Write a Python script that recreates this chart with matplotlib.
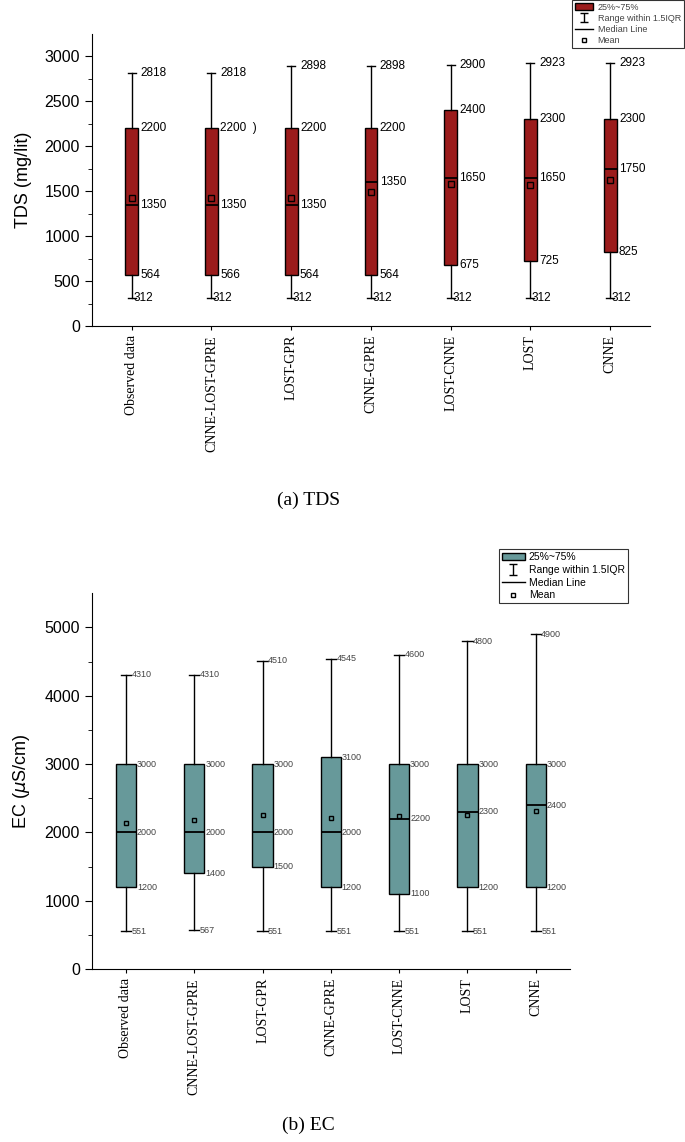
import matplotlib
matplotlib.use("Agg")
import numpy as np
import matplotlib.pyplot as plt
from matplotlib.patches import Patch
from matplotlib.lines import Line2D

# model names on the x axis
models = ["Observed data", "CNNE-LOST-GPRE", "LOST-GPR", "CNNE-GPRE",
          "LOST-CNNE", "LOST", "CNNE"]

# TDS (mg/lit)
tds_min = [312, 312, 312, 312, 312, 312, 312]
tds_q1 = [564, 566, 564, 564, 675, 725, 825]
tds_med = [1350, 1350, 1350, 1605, 1650, 1650, 1750]
tds_q3 = [2200, 2200, 2200, 2200, 2400, 2300, 2300]
tds_max = [2818, 2818, 2898, 2898, 2900, 2923, 2923]
tds_mean = [1420, 1420, 1430, 1490, 1585, 1570, 1620]
tds_med_text = ["1350", "1350", "1350", "1350", "1650", "1650", "1750"]
tds_q3_text = ["2200", "2200  )", "2200", "2200", "2400", "2300", "2300"]

# EC (uS/cm)
ec_min = [551, 567, 551, 551, 551, 551, 551]
ec_q1 = [1200, 1400, 1500, 1200, 1100, 1200, 1200]
ec_med = [2000, 2000, 2000, 2000, 2200, 2300, 2400]
ec_q3 = [3000, 3000, 3000, 3100, 3000, 3000, 3000]
ec_max = [4310, 4310, 4510, 4545, 4600, 4800, 4900]
ec_mean = [2130, 2175, 2250, 2215, 2240, 2250, 2315]

tds_color = "#9b1c1c"
ec_color = "#67999a"

plt.rcParams['font.family'] = ['Liberation Sans', 'DejaVu Sans']
serif = ["Liberation Serif", "DejaVu Serif"]


def draw_boxes(ax, mins, q1, med, q3, maxs, means, color, width, capw, mean_ms):
    stats = []
    for i in range(len(mins)):
        stats.append({"whislo": mins[i], "q1": q1[i], "med": med[i],
                      "q3": q3[i], "whishi": maxs[i], "mean": means[i],
                      "fliers": []})
    ax.bxp(stats, positions=range(len(mins)), widths=width, patch_artist=True,
           showmeans=True, capwidths=capw,
           boxprops=dict(facecolor=color, edgecolor="black", linewidth=1.0),
           medianprops=dict(color="black", linewidth=1.3),
           whiskerprops=dict(color="black", linewidth=1.0),
           capprops=dict(color="black", linewidth=1.0),
           meanprops=dict(marker="s", markerfacecolor="none",
                          markeredgecolor="black", markersize=mean_ms,
                          markeredgewidth=1.0))


def style_axis(ax, ylim, major, minor):
    ax.set_xlim(-0.5, 6.5)
    ax.set_ylim(*ylim)
    ax.spines["top"].set_visible(False)
    ax.spines["right"].set_visible(False)
    ax.set_yticks(range(0, int(ylim[1]) + 1, major))
    ax.set_yticks(range(minor, int(ylim[1]), major), minor=True)
    ax.tick_params(axis="y", direction="out", length=5, labelsize=11.5)
    ax.tick_params(axis="y", which="minor", direction="out", length=3)
    ax.tick_params(axis="x", direction="out", length=3)
    ax.set_xticks(range(len(models)))
    ax.set_xticklabels(models, rotation=90, fontsize=10, family=serif)


def legend_handles(ax, color):
    eb = ax.errorbar([np.nan], [np.nan], yerr=[1], fmt="none", ecolor="black",
                     elinewidth=1.0, capsize=3)
    return [Patch(facecolor=color, edgecolor="black"), eb,
            Line2D([], [], color="black", linewidth=1.0),
            Line2D([], [], color="black", marker="s", markerfacecolor="none",
                   linestyle="none", markersize=3)]


fig = plt.figure(figsize=(6.85, 11.42), dpi=100)

# ---- (a) TDS ----
ax1 = fig.add_axes([0.134, 0.7145, 0.815, 0.2557])
draw_boxes(ax1, tds_min, tds_q1, tds_med, tds_q3, tds_max, tds_mean,
           tds_color, 0.16, 0.1, 4)
style_axis(ax1, (0, 3250), 500, 250)
ax1.set_ylabel("TDS (mg/lit)", fontsize=13, labelpad=9)
for i in range(len(models)):
    dx = 0.11
    ax1.text(i + dx, tds_max[i], str(tds_max[i]), fontsize=8.5, va="center")
    ax1.text(i + dx, tds_q3[i], tds_q3_text[i], fontsize=8.5, va="center")
    ax1.text(i + dx, tds_med[i], tds_med_text[i], fontsize=8.5, va="center")
    ax1.text(i + dx, tds_q1[i], str(tds_q1[i]), fontsize=8.5, va="center")
    ax1.text(i + 0.02, tds_min[i], str(tds_min[i]), fontsize=8.5, va="center")

h1 = legend_handles(ax1, tds_color)
leg1 = fig.legend(h1, ["25%~75%", "Range within 1.5IQR", "Median Line", "Mean"],
                  loc="upper right", bbox_to_anchor=(0.998, 1.0), fontsize=6.5,
                  frameon=True, fancybox=False, handlelength=2.0,
                  handletextpad=0.5, labelspacing=0.25, borderpad=0.3,
                  borderaxespad=0, labelcolor="#444444")
leg1.get_frame().set_edgecolor("black")
leg1.get_frame().set_linewidth(0.8)

fig.text(0.45, 0.562, "(a) TDS", ha="center", va="center", fontsize=14,
         family=serif)

# ---- (b) EC ----
ax2 = fig.add_axes([0.134, 0.1515, 0.698, 0.329])
draw_boxes(ax2, ec_min, ec_q1, ec_med, ec_q3, ec_max, ec_mean,
           ec_color, 0.3, 0.15, 3.5)
style_axis(ax2, (0, 5500), 1000, 500)
ax2.set_ylabel(r"EC ($\mu$S/cm)", fontsize=13, labelpad=9)
for i in range(len(models)):
    dx = 0.16
    for v in [ec_q3[i], ec_med[i], ec_q1[i]]:
        ax2.text(i + dx, v, str(v), fontsize=6.5, va="center", color="#444444")
    ax2.text(i + 0.08, ec_max[i], str(ec_max[i]), fontsize=6.5, va="center", color="#444444")
    ax2.text(i + 0.08, ec_min[i], str(ec_min[i]), fontsize=6.5, va="center", color="#444444")

h2 = legend_handles(ax2, ec_color)
leg2 = fig.legend(h2, ["25%~75%", "Range within 1.5IQR", "Median Line", "Mean"],
                  loc="upper left", bbox_to_anchor=(0.728, 0.519), fontsize=7.5,
                  frameon=True, fancybox=False, handlelength=2.2,
                  handletextpad=0.4, labelspacing=0.25, borderpad=0.3,
                  borderaxespad=0)
leg2.get_frame().set_edgecolor("black")
leg2.get_frame().set_linewidth(0.8)

fig.text(0.45, 0.015, "(b) EC", ha="center", va="center", fontsize=14,
         family=serif)

fig.savefig("out.png", dpi=100)
